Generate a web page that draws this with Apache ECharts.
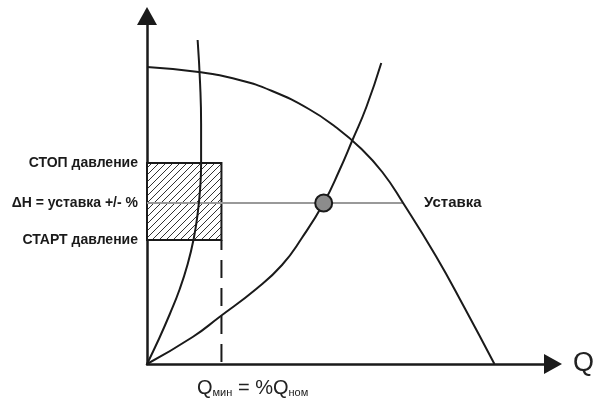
<!DOCTYPE html>
<html>
<head>
<meta charset="utf-8">
<style>
    html, body { margin: 0; padding: 0; background: #fff; }
    #chart { width: 597px; height: 398px; }
</style>
<script src="https://cdn.jsdelivr.net/npm/echarts@6/dist/echarts.min.js"></script>
</head>
<body>
<div id="chart"></div>
<script>
// curves, in axis units (Q to the right, H upward)
const pumpCurve = [[0, 297], [52, 292], [93, 284], [126, 273], [163, 255], [190, 237], [215, 216], [237, 192], [258, 161], [291, 108], [320, 56], [350, 0]]
const steepSystem = [[0, 0], [12, 25], [23, 50], [33, 75], [41, 100], [47, 125], [51, 150], [53.5, 175], [54.5, 200], [54.5, 240], [53.5, 280], [51, 324]]
const mainSystem = [[0, 0], [46, 27], [73, 47], [110, 75], [136, 99], [156, 126], [178, 161], [194, 194], [207, 224], [221, 257], [236, 301]]

const setpointH = 161
const stopH = 201
const startH = 124
const qMin = 75
const setpointQ = 178
const setpointLineEnd = 258

const levelValues = [startH, setpointH, stopH]
const levelLabels = ['СТАРТ давление', 'ΔH = уставка +/- %', 'СТОП давление']

const ink = '#1a1a1a'

// diagonal hatch for the start/stop band
const makeHatch = () => {
    const s = 7
    const c = document.createElement('canvas')
    c.width = s
    c.height = s
    const ctx = c.getContext('2d')
    ctx.fillStyle = '#fff'
    ctx.fillRect(0, 0, s, s)
    ctx.strokeStyle = '#333'
    ctx.lineWidth = 1
    ctx.beginPath()
    ctx.moveTo(-1, s + 1)
    ctx.lineTo(s + 1, -1)
    ctx.moveTo(-1, 1)
    ctx.lineTo(1, -1)
    ctx.moveTo(s - 1, s + 1)
    ctx.lineTo(s + 1, s - 1)
    ctx.stroke()
    return c
}

const chart = echarts.init(document.getElementById('chart'))

const curve = (data) => ({
    type: 'line',
    data,
    smooth: 0.5,
    showSymbol: false,
    symbol: 'none',
    lineStyle: { color: ink, width: 2 },
    z: 4,
})

const boldText = {
    color: ink,
    fontSize: 14,
    fontWeight: 'bold',
    fontFamily: 'Liberation Sans',
}

chart.setOption({
    animation: false,
    grid: { left: 147, right: 41, top: 16, bottom: 34 },
    xAxis: {
        type: 'value',
        min: 0,
        max: 409,
        name: 'Q',
        nameLocation: 'end',
        nameGap: 20,
        nameTextStyle: {
            color: '#222',
            fontSize: 27,
            fontFamily: 'Liberation Sans',
            verticalAlign: 'middle',
        },
        splitLine: { show: false },
        axisTick: { show: false },
        axisLabel: { show: false },
        axisLine: {
            lineStyle: { color: ink, width: 2.5 },
            symbol: ['none', 'triangle'],
            symbolSize: [20, 18],
        },
    },
    yAxis: {
        type: 'value',
        min: 0,
        max: 348,
        splitLine: { show: false },
        axisTick: { show: false },
        axisLabel: {
            show: true,
            customValues: levelValues,
            margin: 9,
            ...boldText,
            formatter: (v) => levelLabels[levelValues.indexOf(v)] || '',
        },
        axisLine: {
            lineStyle: { color: ink, width: 2.5 },
            symbol: ['none', 'triangle'],
            symbolSize: [20, 18],
        },
    },
    series: [
        {
            type: 'line',
            data: [],
            markArea: {
                silent: true,
                itemStyle: {
                    color: { image: makeHatch(), repeat: 'repeat' },
                    borderColor: ink,
                    borderWidth: 2,
                },
                data: [[{ xAxis: 0, yAxis: startH }, { xAxis: qMin, yAxis: stopH }]],
            },
            z: 1,
        },
        {
            type: 'line',
            data: [[qMin, startH], [qMin, 0]],
            showSymbol: false,
            symbol: 'none',
            lineStyle: { color: ink, width: 2, type: [18, 10], dashOffset: 8 },
            z: 2,
        },
        {
            type: 'line',
            data: [[0, setpointH], [setpointLineEnd, setpointH]],
            showSymbol: false,
            symbol: 'none',
            lineStyle: { color: '#999', width: 2 },
            endLabel: {
                show: true,
                formatter: 'Уставка',
                distance: 21,
                ...boldText,
                fontSize: 15,
            },
            z: 3,
        },
        curve(pumpCurve),
        curve(steepSystem),
        curve(mainSystem),
        {
            type: 'scatter',
            data: [[setpointQ, setpointH]],
            symbolSize: 17,
            itemStyle: { color: '#8c8c8c', borderColor: ink, borderWidth: 2, opacity: 1 },
            z: 6,
        },
    ],
    graphic: [
        {
            type: 'text',
            left: 197,
            top: 378,
            style: {
                text: '{q|Q}{s|мин}{q| = %Q}{s|ном}',
                fill: '#222',
                rich: {
                    q: { fontSize: 20, fontFamily: 'Liberation Sans', verticalAlign: 'bottom', lineHeight: 22 },
                    s: { fontSize: 11, fontFamily: 'Liberation Sans', verticalAlign: 'bottom', lineHeight: 21 },
                },
            },
        },
    ],
})

window.addEventListener('resize', () => chart.resize())
</script>
</body>
</html>
